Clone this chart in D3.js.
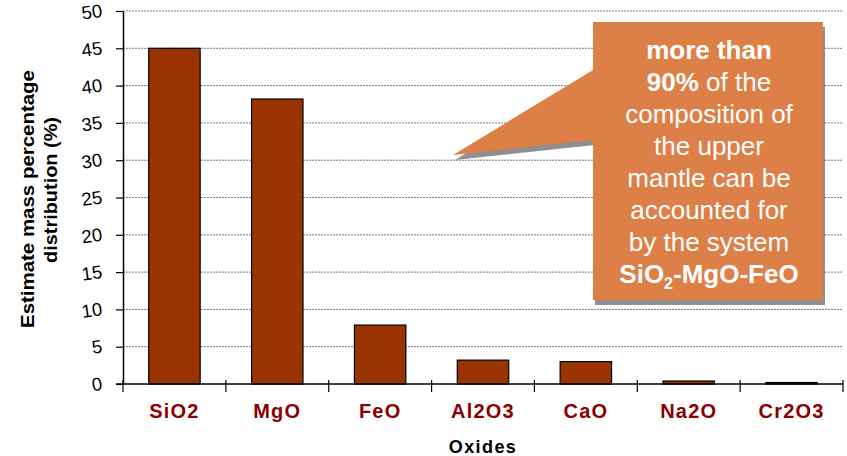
<!DOCTYPE html>
<html><head><meta charset="utf-8">
<script src="https://cdn.jsdelivr.net/npm/d3@7"></script>
<style>body{margin:0;background:#fff}svg{display:block}text{font-family:"Liberation Sans",Arial,sans-serif}</style>
</head><body><svg id="c" width="847" height="456"></svg>
<script>
const categories = ["SiO2","MgO","FeO","Al2O3","CaO","Na2O","Cr2O3"];
const values = [45.0, 38.2, 7.9, 3.2, 3.0, 0.4, 0.2];
const yTicks = [0,5,10,15,20,25,30,35,40,45,50];
const yTitle = ["Estimate mass percentage","distribution (%)"];
const xTitle = "Oxides";

const svg = d3.select("#c");
const L = 123, R = 843, T = 11, B = 384;
const x = d3.scaleBand().domain(categories).range([L, R]).paddingInner(0.5).paddingOuter(0.25);
const y = d3.scaleLinear().domain([0, 50]).range([B, T]);
const step = x.step();

// gridlines
svg.append("g").selectAll("line").data(yTicks.filter(d => d > 0)).join("line")
  .attr("x1", L).attr("x2", R).attr("y1", d => y(d)).attr("y2", d => y(d))
  .attr("stroke", "#7a7a7a").attr("stroke-width", 1).attr("stroke-dasharray", "2,1");

// bars
svg.append("g").selectAll("rect").data(categories).join("rect")
  .attr("x", d => x(d)).attr("width", x.bandwidth())
  .attr("y", (d, i) => y(values[i])).attr("height", (d, i) => B - y(values[i]))
  .attr("fill", "#993300").attr("stroke", "#000").attr("stroke-width", 1.2);

// y axis
const ya = svg.append("g").attr("transform", `translate(${L},0)`)
  .call(d3.axisLeft(y).tickValues(yTicks).tickSize(7).tickSizeOuter(0).tickPadding(0));
ya.select(".domain").attr("stroke", "#000").attr("stroke-width", 1.5);
ya.selectAll(".tick line").attr("stroke", "#000").attr("stroke-width", 1.2);
ya.selectAll(".tick text").attr("font-size", 18.5).attr("fill", "#000").attr("text-anchor", "end")
  .attr("x", -21).attr("dy", "0.36em").attr("transform", "rotate(-8,-31,0)");

// x axis
svg.append("line").attr("x1", L - 7).attr("x2", R).attr("y1", B).attr("y2", B)
  .attr("stroke", "#000").attr("stroke-width", 1.5);
svg.append("g").selectAll("line").data(d3.range(categories.length + 1)).join("line")
  .attr("x1", i => L + i * step).attr("x2", i => L + i * step)
  .attr("y1", B - 4).attr("y2", B + 8).attr("stroke", "#000").attr("stroke-width", 1.2);
svg.append("g").selectAll("text").data(categories).join("text")
  .attr("x", d => x(d) + x.bandwidth() / 2).attr("y", 418)
  .attr("text-anchor", "middle").attr("font-size", 20).attr("font-weight", "bold")
  .attr("letter-spacing", 1.2).attr("fill", "#8b0000").text(d => d);

svg.append("text").attr("x", 483).attr("y", 453).attr("text-anchor", "middle")
  .attr("font-size", 18).attr("font-weight", "bold").attr("letter-spacing", 1.4)
  .attr("fill", "#000").text(xTitle);

// y title
svg.append("text").attr("transform", "translate(34,199) rotate(-90)")
  .attr("text-anchor", "middle").attr("font-size", 17.5).attr("font-weight", "bold")
  .attr("textLength", 258).attr("lengthAdjust", "spacingAndGlyphs").text(yTitle[0]);
svg.append("text").attr("transform", "translate(57,190) rotate(-90)")
  .attr("text-anchor", "middle").attr("font-size", 17.5).attr("font-weight", "bold")
  .attr("textLength", 146).attr("lengthAdjust", "spacingAndGlyphs").text(yTitle[1]);

// callout
const pts = [[593,22],[823,22],[823,300],[593,300],[593,140],[453,155],[593,70]];
svg.append("polygon").attr("points", pts.map(p => [p[0]+2, p[1]+5].join(",")).join(" ")).attr("fill", "#8f8f8f");
svg.append("polygon").attr("points", pts.map(p => p.join(",")).join(" ")).attr("fill", "#dd8047");

const lines = [
  [["more than", true]],
  [["90%", true], [" of the", false]],
  [["composition of", false]],
  [["the upper", false]],
  [["mantle can be", false]],
  [["accounted for", false]],
  [["by the system", false]],
  [["SiO", true], ["2", true, "sub"], ["-MgO-FeO", true, "back"]]
];
const tg = svg.append("g");
lines.forEach((ln, i) => {
  const t = tg.append("text").attr("x", 709).attr("y", 59 + i * 32).attr("text-anchor", "middle")
    .attr("font-size", 26).attr("fill", "#fff");
  ln.forEach(seg => {
    const s = t.append("tspan").attr("font-weight", seg[1] ? "bold" : "normal").text(seg[0]);
    if (seg[2] === "sub") s.attr("font-size", 16).attr("dy", 6);
    if (seg[2] === "back") s.attr("dy", -6);
  });
});
</script></body></html>
